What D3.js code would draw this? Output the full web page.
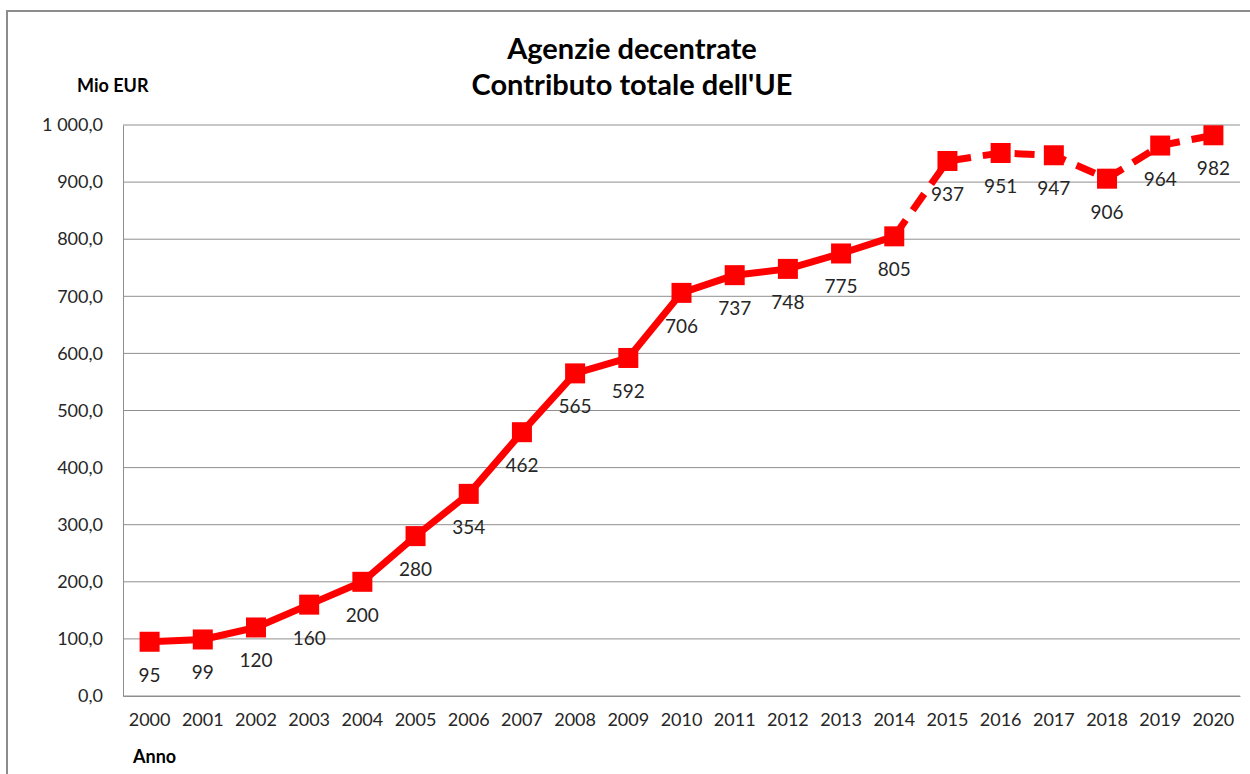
<!DOCTYPE html>
<html>
<head>
<meta charset="utf-8">
<script src="https://cdn.jsdelivr.net/npm/d3@7"></script>
<style>
  body { margin: 0; background: #fff; }
  text { font-family: Lato, "Open Sans", sans-serif; }
</style>
</head>
<body>
<svg id="chart"></svg>
<script>
// chart data
const years = ['2000','2001','2002','2003','2004','2005','2006','2007','2008','2009','2010',
  '2011','2012','2013','2014','2015','2016','2017','2018','2019','2020'];
const values = [95, 99, 120, 160, 200, 280, 354, 462, 565, 592, 706,
  737, 748, 775, 805, 937, 951, 947, 906, 964, 982];
const yTicks = [0, 100, 200, 300, 400, 500, 600, 700, 800, 900, 1000];
const dashedFrom = '2014'; // line is dashed after this year
const titleLines = ['Agenzie decentrate', "Contributo totale dell'UE"];

const width = 1250, height = 774;
const margin = { top: 125, right: 10, bottom: 78, left: 123 };

const svg = d3.select('#chart').attr('width', width).attr('height', height);

// outer frame
svg.append('rect')
  .attr('x', 7).attr('y', 11)
  .attr('width', width + 20).attr('height', height + 20)
  .attr('fill', 'none').attr('stroke', '#8c8c8c').attr('stroke-width', 2);

const x = d3.scaleBand().domain(years).range([margin.left, width - margin.right]);
const y = d3.scaleLinear().domain([0, 1000]).range([height - margin.bottom, margin.top]);

// number format with space thousands and comma decimal
const fmt = v => {
  const s = v.toFixed(1).replace('.', ',');
  return s.replace(/^(\d)(\d{3})/, '$1 $2');
};

// gridlines
svg.append('g')
  .selectAll('line')
  .data(yTicks)
  .enter().append('line')
    .attr('x1', margin.left).attr('x2', width - margin.right)
    .attr('y1', d => y(d)).attr('y2', d => y(d))
    .attr('stroke', '#8f8f8f').attr('stroke-width', 1);

// y axis
const yAxis = svg.append('g')
  .attr('transform', `translate(${margin.left},0)`)
  .call(d3.axisLeft(y).tickValues(yTicks).tickFormat(fmt).tickSize(0).tickPadding(20));
yAxis.select('.domain').attr('stroke', '#8f8f8f');
yAxis.selectAll('text').style('font-size', '18px').attr('fill', '#262626');

// x axis
const xAxis = svg.append('g')
  .attr('transform', `translate(0,${y(0)})`)
  .call(d3.axisBottom(x).tickSize(0).tickPadding(17));
xAxis.select('.domain').attr('stroke', '#8f8f8f');
xAxis.selectAll('text').style('font-size', '18px').attr('fill', '#262626');

// line
const data = years.map((yr, i) => ({ year: yr, value: values[i] }));
const cut = years.indexOf(dashedFrom);
const line = d3.line()
  .x(d => x(d.year) + x.bandwidth() / 2)
  .y(d => y(d.value));

svg.append('path')
  .datum(data.slice(0, cut + 1))
  .attr('d', line)
  .attr('fill', 'none').attr('stroke', '#ff0000').attr('stroke-width', 7)
  .attr('stroke-linejoin', 'round');

svg.append('path')
  .datum(data.slice(cut))
  .attr('d', line)
  .attr('fill', 'none').attr('stroke', '#ff0000').attr('stroke-width', 7)
  .attr('stroke-dasharray', '20,12');

// markers
const ms = 20;
svg.append('g')
  .selectAll('rect')
  .data(data)
  .enter().append('rect')
    .attr('x', d => x(d.year) + x.bandwidth() / 2 - ms / 2)
    .attr('y', d => y(d.value) - ms / 2)
    .attr('width', ms).attr('height', ms)
    .attr('fill', '#ff0000');

// value labels
svg.append('g')
  .selectAll('text')
  .data(data)
  .enter().append('text')
    .attr('x', d => x(d.year) + x.bandwidth() / 2)
    .attr('y', d => y(d.value) + 40)
    .attr('text-anchor', 'middle')
    .style('font-size', '19px')
    .attr('fill', '#262626')
    .text(d => d.value);

// title
svg.append('g')
  .selectAll('text')
  .data(titleLines)
  .enter().append('text')
    .attr('x', 632)
    .attr('y', (d, i) => 59 + i * 36)
    .attr('text-anchor', 'middle')
    .style('font-size', '29px').style('font-weight', 'bold')
    .attr('fill', '#000')
    .text(d => d);

// axis titles
svg.append('text')
  .attr('x', 77).attr('y', 92)
  .style('font-size', '18px').style('font-weight', 'bold')
  .text('Mio EUR');

svg.append('text')
  .attr('x', 133).attr('y', 763)
  .style('font-size', '18px').style('font-weight', 'bold')
  .text('Anno');
</script>
</body>
</html>
